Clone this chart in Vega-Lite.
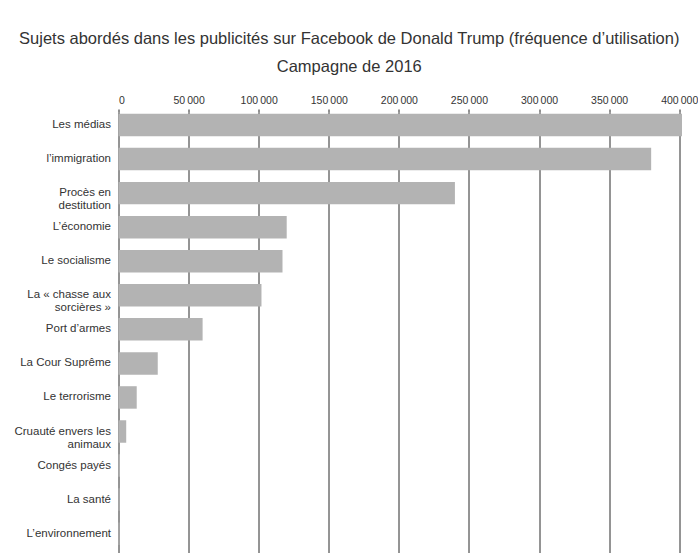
{
  "$schema": "https://vega.github.io/schema/vega-lite/v6.json",
  "autosize": {"type": "none"},
  "padding": {"left": 118.5, "top": 112, "right": 16, "bottom": 0},
  "width": 563.5,
  "height": 441,
  "background": "white",
  "title": {
    "text": ["Sujets abordés dans les publicités sur Facebook de Donald Trump (fréquence d’utilisation)", "Campagne de 2016"],
    "anchor": "middle",
    "dx": -51,
    "dy": -16,
    "fontSize": 16.5,
    "fontWeight": "normal",
    "lineHeight": 28,
    "color": "#333",
    "font": "Liberation Sans, Arial, sans-serif"
  },
  "data": {
    "values": [
      {"sujet": "Les médias", "valeur": 402000},
      {"sujet": "l’immigration", "valeur": 380000},
      {"sujet": "Procès en\ndestitution", "valeur": 240000},
      {"sujet": "L’économie", "valeur": 120000},
      {"sujet": "Le socialisme", "valeur": 117000},
      {"sujet": "La « chasse aux\nsorcières »", "valeur": 102000},
      {"sujet": "Port d’armes", "valeur": 60000},
      {"sujet": "La Cour Suprême", "valeur": 28000},
      {"sujet": "Le terrorisme", "valeur": 13000},
      {"sujet": "Cruauté envers les\nanimaux", "valeur": 5500},
      {"sujet": "Congés payés", "valeur": 1000},
      {"sujet": "La santé", "valeur": 800},
      {"sujet": "L’environnement", "valeur": 700}
    ]
  },
  "mark": {"type": "bar", "color": "#b3b3b3"},
  "encoding": {
    "y": {
      "field": "sujet",
      "type": "nominal",
      "sort": null,
      "title": null,
      "scale": {"paddingInner": 0.34, "paddingOuter": 0.145, "align": 0.18},
      "axis": {
        "domain": false,
        "ticks": false,
        "labelPadding": 8,
        "labelFontSize": 11.5,
        "labelColor": "#333",
        "labelFont": "Liberation Sans, Arial, sans-serif",
        "labelLineHeight": 13,
        "labelExpr": "split(datum.label, '\\n')"
      }
    },
    "x": {
      "field": "valeur",
      "type": "quantitative",
      "title": null,
      "scale": {"domain": [0, 402000], "nice": false},
      "axis": {
        "orient": "top",
        "values": [0, 50000, 100000, 150000, 200000, 250000, 300000, 350000, 400000],
        "domain": false,
        "tickSize": 3,
        "tickColor": "#222",
        "gridColor": "#2a2a2a",
        "gridOpacity": 1,
        "labelPadding": 4,
        "labelFontSize": 10.5,
        "labelColor": "#333",
        "labelFont": "Liberation Sans, Arial, sans-serif",
        "labelExpr": "replace(format(datum.value, ','), ',', '\u2009')"
      }
    }
  },
  "config": {"view": {"stroke": null}}
}
